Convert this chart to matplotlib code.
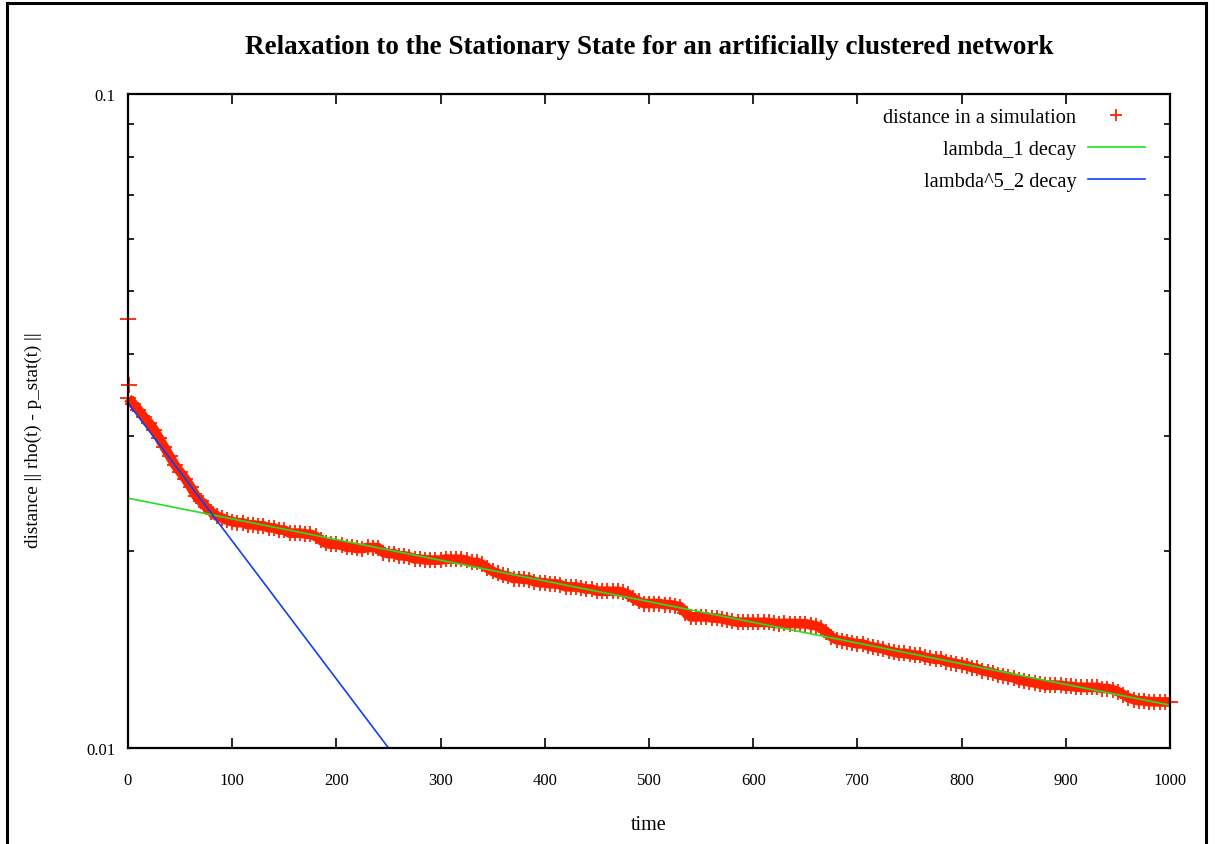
import numpy as np
import matplotlib
matplotlib.use("Agg")
import matplotlib.pyplot as plt
from matplotlib.patches import Rectangle
from matplotlib.lines import Line2D

plt.rcParams['font.family'] = ['Liberation Serif', 'DejaVu Serif']

# simulated distance ||rho(t) - p_stat(t)||, one sample every 5 steps after the first two
sim_time = [0, 1] + list(range(0, 1001, 5))
sim_dist = [
    0.0453, 0.0359,
    0.03429, 0.03358, 0.03289, 0.03210, 0.03144, 0.03069, 0.02974, 0.02883, 0.02794, 0.02709,
    0.02644, 0.02580, 0.02509, 0.02432, 0.02382, 0.02336, 0.02296, 0.02263, 0.02247, 0.02231,
    0.02218, 0.02211, 0.02210, 0.02195, 0.02195, 0.02187, 0.02186, 0.02171, 0.02170, 0.02155,
    0.02154, 0.02131, 0.02131, 0.02131, 0.02124, 0.02123, 0.02108, 0.02078, 0.02056, 0.02048,
    0.02049, 0.02041, 0.02027, 0.02026, 0.02019, 0.02018, 0.02026, 0.02025, 0.02025, 0.01990,
    0.01982, 0.01982, 0.01968, 0.01967, 0.01960, 0.01946, 0.01946, 0.01939, 0.01938, 0.01938,
    0.01938, 0.01945, 0.01944, 0.01944, 0.01943, 0.01936, 0.01923, 0.01922, 0.01909, 0.01883,
    0.01862, 0.01849, 0.01836, 0.01830, 0.01816, 0.01816, 0.01810, 0.01809, 0.01796, 0.01790,
    0.01789, 0.01782, 0.01783, 0.01776, 0.01764, 0.01763, 0.01763, 0.01757, 0.01750, 0.01750,
    0.01737, 0.01737, 0.01737, 0.01736, 0.01736, 0.01730, 0.01718, 0.01693, 0.01675, 0.01663,
    0.01663, 0.01663, 0.01663, 0.01657, 0.01657, 0.01651, 0.01645, 0.01610, 0.01587, 0.01587,
    0.01587, 0.01586, 0.01581, 0.01580, 0.01575, 0.01569, 0.01563, 0.01557, 0.01557, 0.01558,
    0.01557, 0.01556, 0.01557, 0.01556, 0.01551, 0.01550, 0.01551, 0.01550, 0.01550, 0.01549,
    0.01549, 0.01543, 0.01538, 0.01527, 0.01506, 0.01480, 0.01464, 0.01459, 0.01454, 0.01448,
    0.01443, 0.01443, 0.01433, 0.01427, 0.01422, 0.01417, 0.01407, 0.01402, 0.01396, 0.01396,
    0.01391, 0.01386, 0.01386, 0.01376, 0.01371, 0.01366, 0.01366, 0.01356, 0.01351, 0.01346,
    0.01341, 0.01336, 0.01327, 0.01323, 0.01313, 0.01308, 0.01303, 0.01294, 0.01290, 0.01285,
    0.01280, 0.01270, 0.01266, 0.01262, 0.01257, 0.01253, 0.01248, 0.01248, 0.01248, 0.01247,
    0.01243, 0.01243, 0.01239, 0.01238, 0.01238, 0.01238, 0.01238, 0.01233, 0.01233, 0.01228,
    0.01220, 0.01207, 0.01194, 0.01186, 0.01181, 0.01181, 0.01177, 0.01177, 0.01176, 0.01176,
    0.01176,
]

# fitted decays (straight lines on the log axis)
lam1_time = [0, 1000]
lam1_dist = [0.0241, 0.01163]
lam2_time = [0, 250]
lam2_dist = [0.0337, 0.0100]

x_ticks = list(range(0, 1001, 100))
y_ticks = [0.01, 0.1]
y_ticklabels = ['0.01', '0.1']

red = '#ff2200'
green = '#22e022'
blue = '#1040f0'

fig = plt.figure(figsize=(12.16, 8.45), dpi=100)
ax = fig.add_axes([128 / 1216, 1 - 749 / 845, 1042 / 1216, 654 / 845])

# dense cloud of points: thick trace underneath plus the point markers
ax.plot(sim_time[2:], sim_dist[2:], color=red, lw=7, solid_capstyle='butt',
        solid_joinstyle='round', zorder=2, clip_on=False)
ax.plot(sim_time, sim_dist, linestyle='none', marker='+', markersize=11,
        markeredgewidth=1.3, color=red, zorder=2, clip_on=False)
ax.plot(lam1_time, lam1_dist, color=green, lw=1.2, zorder=3)
ax.plot(lam2_time, lam2_dist, color=blue, lw=1.2, zorder=3)

ax.set_yscale('log')
ax.set_xlim(0, 1000)
ax.set_ylim(0.01, 0.1)
ax.set_xticks(x_ticks)
ax.set_xticklabels([str(v) for v in x_ticks])
ax.set_yticks(y_ticks)
ax.set_yticklabels(y_ticklabels)
ax.yaxis.set_minor_formatter(matplotlib.ticker.NullFormatter())

for s in ax.spines.values():
    s.set_linewidth(1.6)
    s.set_zorder(4)
ax.tick_params(which='both', direction='in', top=True, right=True, width=1.2,
               labelsize=12, colors='black')
ax.tick_params(axis='x', which='major', length=7, pad=17)
ax.tick_params(axis='y', which='major', length=7, pad=9)
ax.tick_params(axis='y', which='minor', length=4)

ax.set_xlabel('time', fontsize=14.5)
ax.xaxis.set_label_coords(0.5, -(816 - 749) / 654)
ax.set_ylabel('distance || rho(t) - p_stat(t) ||', fontsize=13.8)
ax.yaxis.set_label_coords(-(128 - 42) / 1042, (749 - 440) / 654)

fig.text(649 / 1216, 1 - 48 / 845, 'Relaxation to the Stationary State for an artificially clustered network',
         ha='center', va='center', fontsize=19.5, fontweight='bold')

handles = [
    Line2D([], [], linestyle='none', marker='+', markersize=9, markeredgewidth=1.3, color=red),
    Line2D([], [], color=green, lw=1.2),
    Line2D([], [], color=blue, lw=1.2),
]
labels = ['distance in a simulation', 'lambda_1 decay', 'lambda^5_2 decay']
ax.legend(handles, labels, loc='upper right', bbox_to_anchor=(1145 / 1216, 1 - 109 / 845),
          bbox_transform=fig.transFigure, frameon=False, markerfirst=False,
          numpoints=1, fontsize=14.7, handlelength=2.8, handletextpad=0.55,
          labelspacing=0.62, borderpad=0, borderaxespad=0)

# outer frame
fig.patches.append(Rectangle((7 / 1216, -0.02), 1199 / 1216, 1 - 4 / 845 + 0.02,
                             transform=fig.transFigure, fill=False, lw=2.2, ec='black'))

fig.savefig('out.png', dpi=100)
